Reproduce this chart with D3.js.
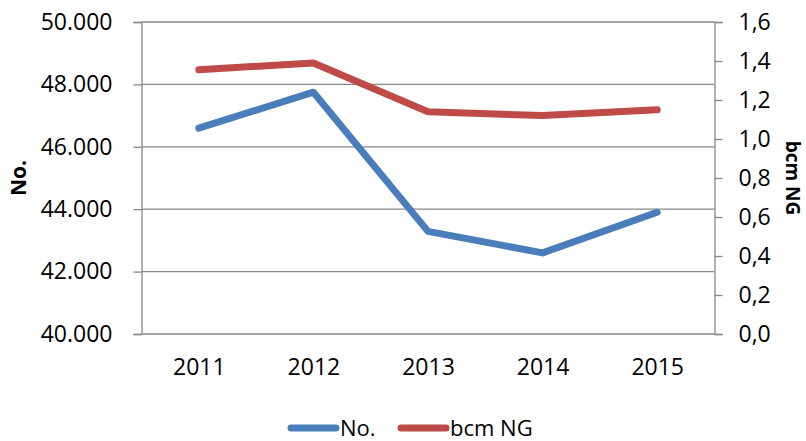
<!DOCTYPE html>
<html lang="en">
<head>
  <meta charset="UTF-8">
  <title>No. and bcm NG</title>
  <style>
    body { margin: 0; background: #fff; font-family: "Open Sans", sans-serif; }
    svg text { fill: #000; }
  </style>
</head>
<body>
  <svg class="chart"></svg>
  <script src="https://cdn.jsdelivr.net/npm/d3@7"></script>
  <script>
    var w = 806, h = 441;
    var years = ["2011", "2012", "2013", "2014", "2015"];
    var numbers = [46600, 47750, 43290, 42600, 43900];
    var bcmNG = [1.355, 1.39, 1.14, 1.12, 1.15];
    var leftTicks = [40000, 42000, 44000, 46000, 48000, 50000];
    var rightTicks = [0, 0.2, 0.4, 0.6, 0.8, 1.0, 1.2, 1.4, 1.6];

    var plot = { left: 141.5, right: 714.5, top: 22, bottom: 334 };

    var loc = d3.formatLocale({ decimal: ",", thousands: ".", grouping: [3], currency: ["", ""] });
    var fmtLeft = loc.format(",d");
    var fmtRight = loc.format(".1f");

    var svg = d3.select(".chart").attr("width", w).attr("height", h);

    var x = d3.scalePoint().domain(years).range([plot.left, plot.right]).padding(0.5);
    var yL = d3.scaleLinear().domain([40000, 50000]).range([plot.bottom, plot.top]);
    var yR = d3.scaleLinear().domain([0, 1.6]).range([plot.bottom, plot.top]);

    // gridlines
    svg.append("g").selectAll("line")
      .data(leftTicks)
      .enter().append("line")
      .attr("x1", plot.left).attr("x2", plot.right)
      .attr("y1", d => yL(d)).attr("y2", d => yL(d))
      .attr("stroke", "#898989").attr("stroke-width", 1.3);

    // left axis
    var axL = svg.append("g")
      .attr("transform", "translate(" + plot.left + ",0)")
      .call(d3.axisLeft(yL).tickValues(leftTicks).tickFormat(fmtLeft).tickSize(8).tickPadding(21));
    axL.select(".domain").attr("stroke", "#898989").attr("stroke-width", 1.3);
    axL.selectAll(".tick line").attr("stroke", "#898989").attr("stroke-width", 1.3);
    axL.selectAll("text").attr("font-family", "Open Sans").attr("font-size", 23).attr("fill", "#000");

    // right axis
    var axR = svg.append("g")
      .attr("transform", "translate(" + plot.right + ",0)")
      .call(d3.axisRight(yR).tickValues(rightTicks).tickFormat(fmtRight).tickSize(8).tickPadding(16));
    axR.select(".domain").attr("stroke", "#898989").attr("stroke-width", 1.3);
    axR.selectAll(".tick line").attr("stroke", "#898989").attr("stroke-width", 1.3);
    axR.selectAll("text").attr("font-family", "Open Sans").attr("font-size", 23).attr("fill", "#000");

    // bottom axis
    var axB = svg.append("g")
      .attr("transform", "translate(0," + plot.bottom + ")")
      .call(d3.axisBottom(x).tickSize(0).tickPadding(25));
    axB.select(".domain").remove();
    axB.selectAll("text").attr("font-family", "Open Sans").attr("font-size", 23).attr("fill", "#000");

    // axis titles
    svg.append("text")
      .attr("transform", "translate(26," + ((plot.top + plot.bottom) / 2) + ") rotate(-90)")
      .attr("text-anchor", "middle")
      .attr("font-weight", "bold").attr("font-size", 21)
      .text("No.");
    svg.append("text")
      .attr("transform", "translate(786," + ((plot.top + plot.bottom) / 2) + ") rotate(90)")
      .attr("text-anchor", "middle")
      .attr("font-weight", "bold").attr("font-size", 19)
      .text("bcm NG");

    // lines
    var lineL = d3.line().x((d, i) => x(years[i])).y(d => yL(d));
    var lineR = d3.line().x((d, i) => x(years[i])).y(d => yR(d));

    svg.append("path")
      .attr("d", lineL(numbers))
      .attr("fill", "none").attr("stroke", "#4A7EBB").attr("stroke-width", 7)
      .attr("stroke-linecap", "round").attr("stroke-linejoin", "round");
    svg.append("path")
      .attr("d", lineR(bcmNG))
      .attr("fill", "none").attr("stroke", "#BE4B48").attr("stroke-width", 7)
      .attr("stroke-linecap", "round").attr("stroke-linejoin", "round");

    // legend
    var legend = [
      { name: "No.", color: "#4A7EBB", x: 291 },
      { name: "bcm NG", color: "#BE4B48", x: 401 }
    ];
    var lg = svg.append("g").selectAll("g")
      .data(legend)
      .enter().append("g")
      .attr("transform", d => "translate(" + d.x + ",428)");
    lg.append("line")
      .attr("x1", 0).attr("x2", 45)
      .attr("stroke", d => d.color).attr("stroke-width", 7).attr("stroke-linecap", "round");
    lg.append("text")
      .attr("x", 49).attr("dy", "0.36em")
      .attr("font-size", 22)
      .text(d => d.name);
  </script>
</body>
</html>
